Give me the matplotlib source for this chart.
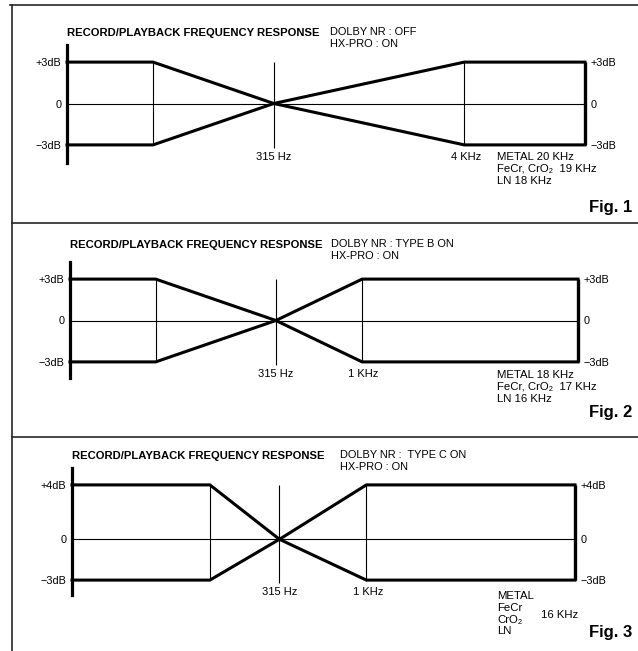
import matplotlib
matplotlib.use('Agg')
import matplotlib.pyplot as plt
from matplotlib.lines import Line2D

plt.rcParams['font.family'] = ['Liberation Sans', 'DejaVu Sans']

# tolerance windows, frequency in Hz, level in dB
fig1_freq = [20, 63, 315, 4000, 20000]
fig1_upper = [3, 3, 0, 3, 3]
fig1_lower = [-3, -3, 0, -3, -3]
fig1_mid_label = '4 KHz'
fig1_dolby = ['DOLBY NR : OFF', 'HX-PRO : ON']
fig1_tapes = 'METAL 20 KHz\nFeCr, CrO\u2082  19 KHz\nLN 18 KHz'

fig2_freq = [20, 63, 315, 1000, 18000]
fig2_upper = [3, 3, 0, 3, 3]
fig2_lower = [-3, -3, 0, -3, -3]
fig2_mid_label = '1 KHz'
fig2_dolby = ['DOLBY NR : TYPE B ON', 'HX-PRO : ON']
fig2_tapes = 'METAL 18 KHz\nFeCr, CrO\u2082  17 KHz\nLN 16 KHz'

fig3_freq = [20, 125, 315, 1000, 16000]
fig3_upper = [4, 4, 0, 4, 4]
fig3_lower = [-3, -3, 0, -3, -3]
fig3_mid_label = '1 KHz'
fig3_dolby = ['DOLBY NR :  TYPE C ON', 'HX-PRO : ON']
fig3_tapes = 'METAL\nFeCr\nCrO\u2082\nLN'
fig3_tapes_freq = '16 KHz'

title = 'RECORD/PLAYBACK FREQUENCY RESPONSE'

W, H = 638, 651
fig = plt.figure(figsize=(W / 100, H / 100), dpi=100)


def fx(px):
    return px / W


def fy(py):
    return 1 - py / H


def panel(freq, upper, lower, mid_label, dolby, tapes, n,
          x0, x1, ytop, ybot, zero, scale, title_y, dolby_x, tapes_y, fig_y):
    ax = fig.add_axes([fx(x0), fy(ybot), fx(x1 - x0), (ybot - ytop) / H])
    ax.set_xscale('log')
    ax.set_xlim(freq[0], freq[-1])
    ax.set_ylim(-(ybot - zero) / scale, (zero - ytop) / scale)
    for s in ['top', 'right', 'bottom']:
        ax.spines[s].set_visible(False)
    ax.spines['left'].set_linewidth(2.3)
    ax.set_xticks([])
    ax.minorticks_off()
    ax.set_yticks([upper[0], 0, lower[0]],
                  ['+%ddB' % upper[0], '0', '\u2212%ddB' % abs(lower[0])])
    ax.tick_params(axis='y', length=0, pad=4, labelsize=7.8,
                   labelleft=True, labelright=True)
    ax.patch.set_visible(False)

    ax.axhline(0, color='k', lw=0.8)
    ax.plot(freq, upper, color='k', lw=2.2, clip_on=False, solid_joinstyle='miter')
    ax.plot(freq, lower, color='k', lw=2.2, clip_on=False, solid_joinstyle='miter')
    ax.vlines([freq[1], freq[3]], [lower[1], lower[3]], [upper[1], upper[3]],
              color='k', lw=0.8)
    ax.vlines(freq[2], min(lower) - 0.2, max(upper), color='k', lw=0.8)
    ax.vlines(freq[-1], lower[-1], upper[-1], color='k', lw=2.4, clip_on=False)

    ax.annotate('315 Hz', (freq[2], min(lower)), xytext=(0, -5),
                textcoords='offset points', ha='center', va='top', fontsize=8)
    ax.annotate(mid_label, (freq[3], min(lower)), xytext=(1, -5),
                textcoords='offset points', ha='center', va='top', fontsize=8)

    fig.text(fx(x0), fy(title_y), title, fontsize=8.1, fontweight='bold',
             ha='left', va='center')
    fig.text(fx(dolby_x), fy(title_y - 1), dolby[0], fontsize=7.9, ha='left', va='center')
    fig.text(fx(dolby_x), fy(title_y + 11), dolby[1], fontsize=7.9, ha='left', va='center')
    fig.text(fx(497), fy(tapes_y), tapes, fontsize=8.2, ha='left', va='top',
             linespacing=1.22)
    fig.text(fx(632), fy(fig_y), 'Fig. %d' % n, fontsize=12, fontweight='bold',
             ha='right', va='baseline')
    return ax


panel(fig1_freq, fig1_upper, fig1_lower, fig1_mid_label, fig1_dolby, fig1_tapes, 1,
      67, 585, 45, 163, 103.5, 13.8, 33, 330, 152, 212)
panel(fig2_freq, fig2_upper, fig2_lower, fig2_mid_label, fig2_dolby, fig2_tapes, 2,
      70, 578, 262, 378, 320.5, 13.8, 245, 331, 370, 417)
panel(fig3_freq, fig3_upper, fig3_lower, fig3_mid_label, fig3_dolby, fig3_tapes, 3,
      72, 575, 468, 595, 539.3, 13.6, 456, 340, 591, 637)
fig.text(fx(541), fy(615), fig3_tapes_freq, fontsize=8.2, ha='left', va='center')

# outer frame and dividers
frame = dict(transform=fig.transFigure, color='0.15', lw=1.2)
fig.add_artist(Line2D([fx(10), fx(638)], [fy(5), fy(5)], **frame))
fig.add_artist(Line2D([fx(12), fx(12)], [fy(5), fy(651)], **frame))
fig.add_artist(Line2D([fx(12), fx(638)], [fy(223), fy(223)], **frame))
fig.add_artist(Line2D([fx(12), fx(638)], [fy(437), fy(437)], **frame))

fig.savefig('out.png', dpi=100, facecolor='white')
